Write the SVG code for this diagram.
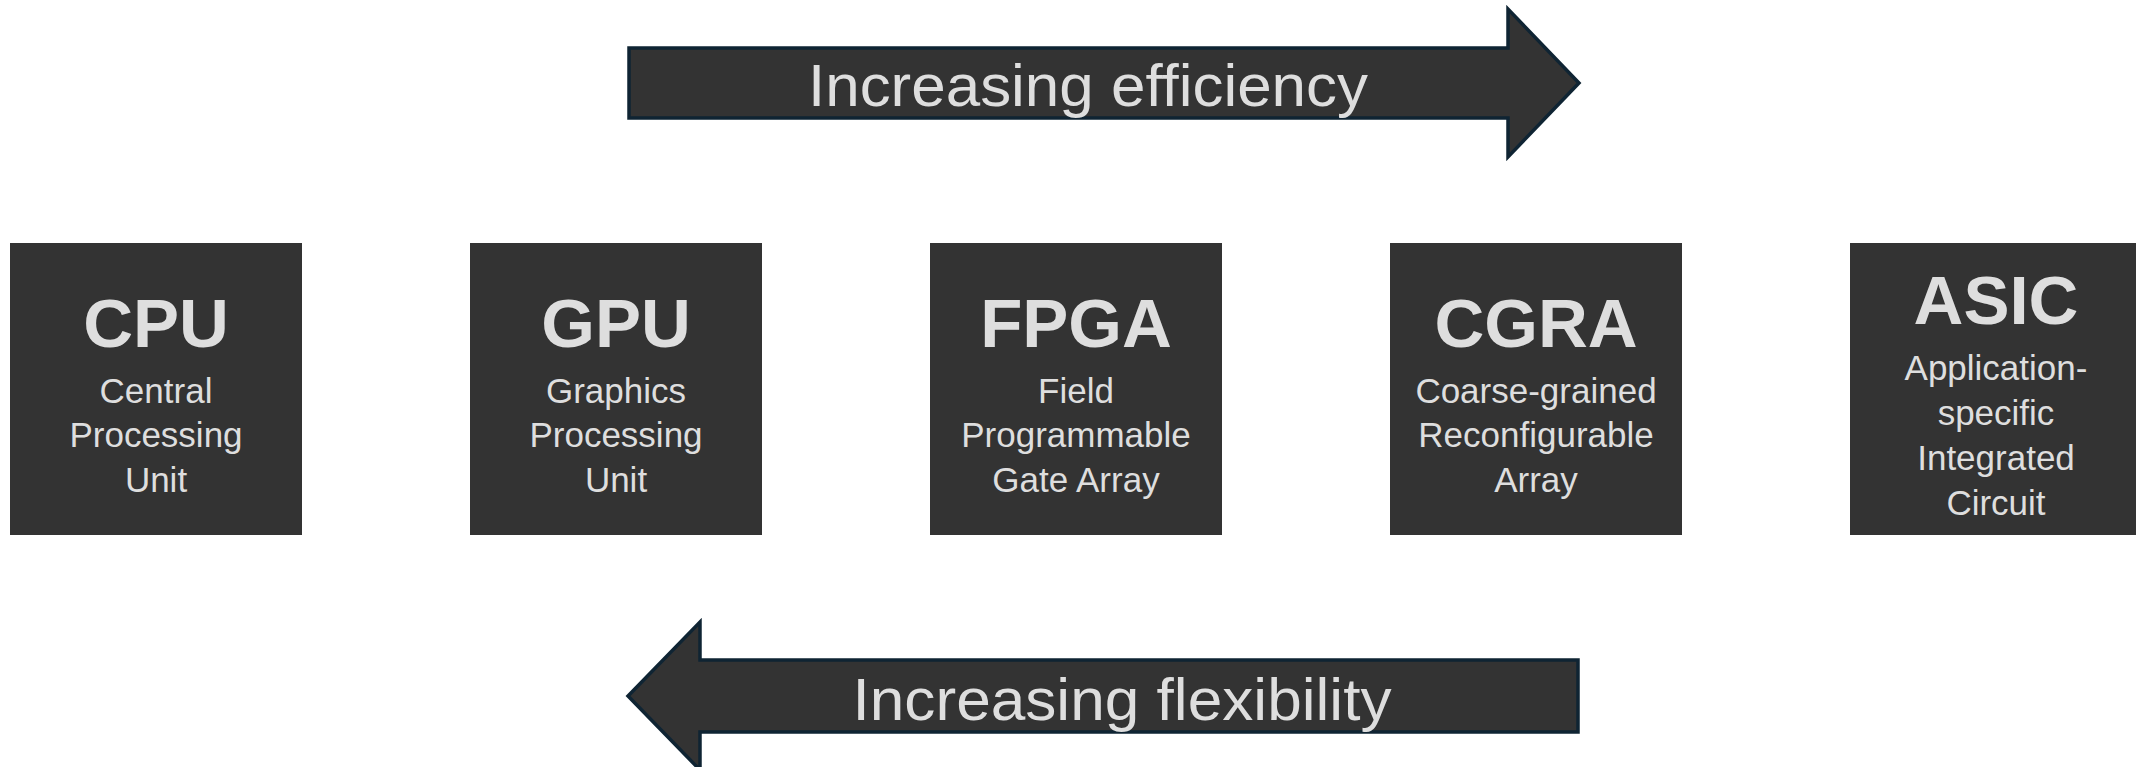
<svg xmlns="http://www.w3.org/2000/svg" width="2136" height="767" viewBox="0 0 2136 767">
<style>
.box{fill:#333333}
.arrow{fill:#333333;stroke:#0f2433;stroke-width:3.5;stroke-linejoin:miter}
.t{font-family:"Liberation Sans",Arial,sans-serif;font-weight:bold;font-size:69px;fill:#dedede;text-anchor:middle}
.s{font-family:"Liberation Sans",Arial,sans-serif;font-size:35px;fill:#dedede;text-anchor:middle}
.a{font-family:"Liberation Sans",Arial,sans-serif;font-size:60px;fill:#dedede;text-anchor:middle}
</style>
<rect width="2136" height="767" fill="#ffffff"/>
<g id="connectors">
  <g id="arrow-efficiency">
    <path class="arrow" d="M629,48 L1508,48 L1508,9 L1579,83 L1508,157 L1508,118 L629,118 Z"/>
    <text class="a" x="1088" y="106" textLength="560" lengthAdjust="spacingAndGlyphs">Increasing efficiency</text>
  </g>
  <g id="arrow-flexibility">
    <path class="arrow" d="M1578,660 L700,660 L700,622 L628,696 L700,770 L700,732 L1578,732 Z"/>
    <text class="a" x="1122" y="720" textLength="539" lengthAdjust="spacingAndGlyphs">Increasing flexibility</text>
  </g>
</g>
<g id="cpu">
  <rect class="box" x="10" y="243" width="292" height="292"/>
  <text class="t" x="156" y="347">CPU</text>
  <text class="s" x="156" y="403">Central</text>
  <text class="s" x="156" y="447">Processing</text>
  <text class="s" x="156" y="492">Unit</text>
</g>
<g id="gpu">
  <rect class="box" x="470" y="243" width="292" height="292"/>
  <text class="t" x="616" y="347">GPU</text>
  <text class="s" x="616" y="403">Graphics</text>
  <text class="s" x="616" y="447">Processing</text>
  <text class="s" x="616" y="492">Unit</text>
</g>
<g id="fpga">
  <rect class="box" x="930" y="243" width="292" height="292"/>
  <text class="t" x="1076" y="347">FPGA</text>
  <text class="s" x="1076" y="403">Field</text>
  <text class="s" x="1076" y="447">Programmable</text>
  <text class="s" x="1076" y="492">Gate Array</text>
</g>
<g id="cgra">
  <rect class="box" x="1390" y="243" width="292" height="292"/>
  <text class="t" x="1536" y="347">CGRA</text>
  <text class="s" x="1536" y="403">Coarse-grained</text>
  <text class="s" x="1536" y="447">Reconfigurable</text>
  <text class="s" x="1536" y="492">Array</text>
</g>
<g id="asic">
  <rect class="box" x="1850" y="243" width="292" height="292"/>
  <text class="t" x="1996" y="324">ASIC</text>
  <text class="s" x="1996" y="380">Application-</text>
  <text class="s" x="1996" y="425">specific</text>
  <text class="s" x="1996" y="470">Integrated</text>
  <text class="s" x="1996" y="515">Circuit</text>
</g>
</svg>
